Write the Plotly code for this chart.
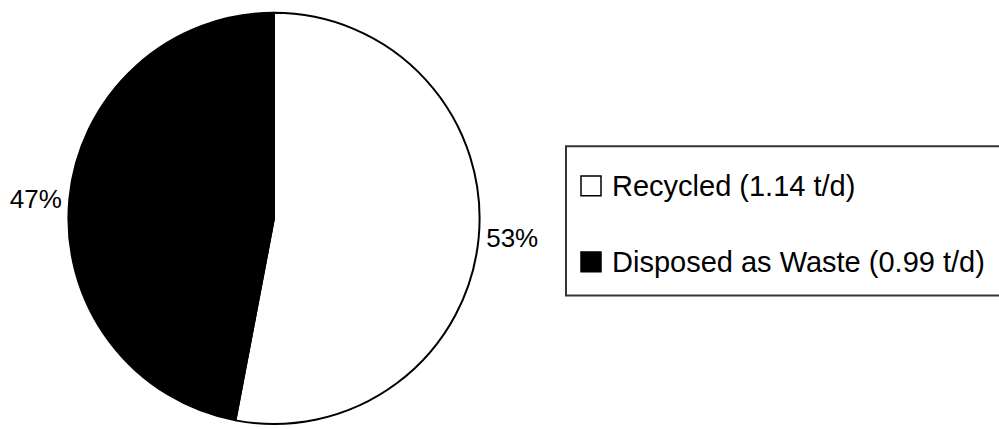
import plotly.graph_objects as go

# Daily waste stream split
categories = ["Recycled", "Disposed as Waste"]
shares_pct = [53, 47]          # percent of total
tonnes_per_day = [1.14, 0.99]  # t/d
slice_colors = ["#ffffff", "#000000"]

W, H = 999, 429
FONT = "Liberation Sans, Arial, Helvetica, sans-serif"


def px(x):
    return x / W


def py(y):
    return 1 - y / H


fig = go.Figure()

fig.add_trace(go.Pie(
    labels=categories,
    values=shares_pct,
    sort=False,
    direction="clockwise",
    rotation=0,
    marker=dict(colors=slice_colors, line=dict(color="#000000", width=2)),
    texttemplate="%{percent:.0%}",
    textposition="outside",
    textfont=dict(family=FONT, size=26, color="#000000"),
    domain=dict(x=[px(66), px(482)], y=[py(429), py(13)]),
    showlegend=False,
    hoverinfo="label+value+percent",
))

# Legend box with square swatches
shapes = [
    dict(type="rect", xref="paper", yref="paper",
         x0=px(566), x1=px(1010), y0=py(299), y1=py(148),
         line=dict(color="#333333", width=2), fillcolor="#ffffff", layer="below"),
]
annotations = []
row_y = [188, 265]
for name, t, col, yc in zip(categories, tonnes_per_day, slice_colors, row_y):
    shapes.append(dict(type="rect", xref="paper", yref="paper",
                       x0=px(581), x1=px(601), y0=py(yc + 10), y1=py(yc - 10),
                       line=dict(color="#000000", width=1.5), fillcolor=col))
    annotations.append(dict(xref="paper", yref="paper", x=px(610), y=py(yc),
                            xanchor="left", yanchor="middle", showarrow=False,
                            text=f"{name} ({t:.2f} t/d)",
                            font=dict(family=FONT, size=29, color="#000000")))

fig.update_layout(
    width=W, height=H,
    margin=dict(l=0, r=0, t=0, b=0),
    paper_bgcolor="#ffffff",
    plot_bgcolor="#ffffff",
    shapes=shapes,
    annotations=annotations,
    showlegend=False,
)

fig.write_html("out.html")
